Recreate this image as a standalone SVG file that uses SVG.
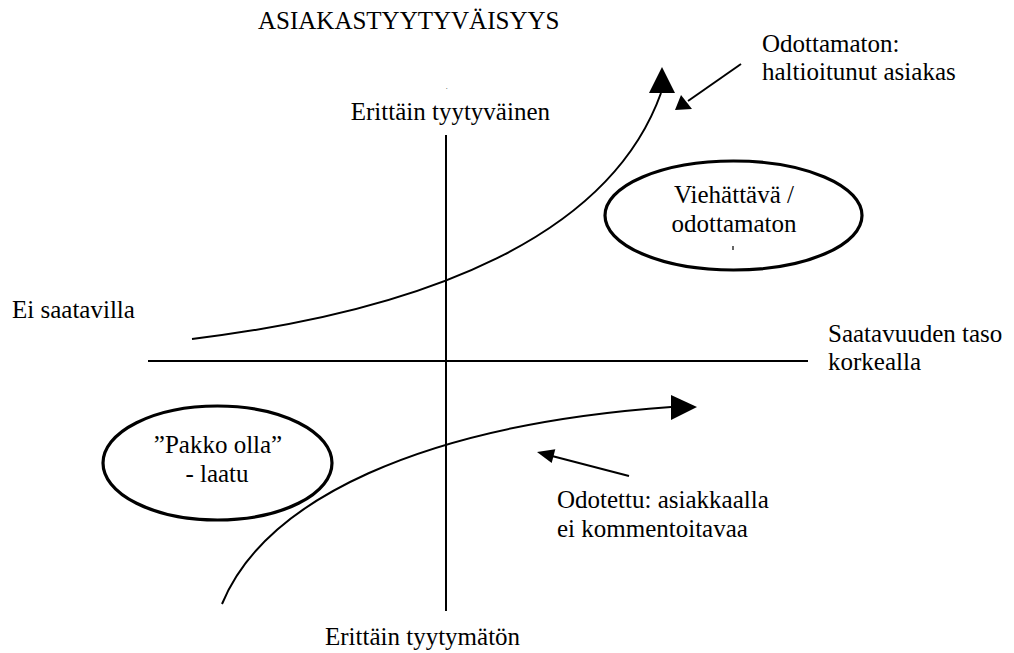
<svg xmlns="http://www.w3.org/2000/svg" width="1014" height="653" viewBox="0 0 1014 653">
  <defs>
    <style>
      .t { font-family: "Liberation Serif", "Times New Roman", serif; font-size: 25px; fill: #000; }
      .mid { text-anchor: middle; }
      .end { text-anchor: end; }
      .axis { stroke: #000; stroke-width: 2; fill: none; }
      .curve { stroke: #000; stroke-width: 2; fill: none; }
      .oval { stroke: #000; stroke-width: 3.2; fill: #fff; }
      .head { fill: #000; }
    </style>
  </defs>
  <rect width="1014" height="653" fill="#fff"/>

  <g id="title">
    <text class="t" x="258" y="29">ASIAKASTYYTYVÄISYYS</text>
    <text x="446" y="89" font-size="6" font-family="Liberation Serif, serif">.</text>
  </g>

  <!-- axes -->
  <g id="axes">
    <line class="axis" x1="446" y1="135" x2="446" y2="611"/>
    <line class="axis" x1="148" y1="361" x2="808" y2="361"/>
  </g>

  <g id="axis-labels">
    <text class="t end" x="550" y="120">Erittäin tyytyväinen</text>
    <text class="t" x="325" y="645">Erittäin tyytymätön</text>
    <text class="t" x="12" y="318">Ei saatavilla</text>
    <text class="t" x="828" y="342">Saatavuuden taso</text>
    <text class="t" x="828" y="370">korkealla</text>
  </g>

  <!-- connectors: curves and pointer arrows -->
  <g id="connectors">
    <path class="curve" d="M192,339 C430,310 610,235 661,93"/>
    <polygon class="head" points="662,67 649,93 675,93"/>
    <path class="curve" d="M222,604 C265,500 420,425 671,407"/>
    <polygon class="head" points="697,407 671,395 671,420"/>
    <line class="curve" x1="741" y1="64" x2="688" y2="101"/>
    <polygon class="head" points="675,110 681,95 692,109"/>
    <line class="curve" x1="629" y1="476" x2="552" y2="456"/>
    <polygon class="head" points="537,452 555.3,449.3 551.7,462.9"/>
  </g>

  <g id="node-viehattava">
    <ellipse class="oval" cx="733.5" cy="215.5" rx="128.5" ry="54.5"/>
    <text class="t mid" x="734" y="203">Viehättävä /</text>
    <text class="t mid" x="734" y="232">odottamaton</text>
    <line x1="733" y1="246" x2="733" y2="250" stroke="#000" stroke-width="1.2"/>
  </g>

  <g id="node-pakko">
    <ellipse class="oval" cx="217.5" cy="463" rx="114.5" ry="57"/>
    <text class="t mid" x="218" y="453">”Pakko olla”</text>
    <text class="t mid" x="217" y="482">- laatu</text>
  </g>

  <g id="label-odottamaton">
    <text class="t" x="762" y="52">Odottamaton:</text>
    <text class="t" x="762" y="80">haltioitunut asiakas</text>
  </g>

  <g id="label-odotettu">
    <text class="t" x="557" y="508">Odotettu: asiakkaalla</text>
    <text class="t" x="557" y="537">ei kommentoitavaa</text>
  </g>
</svg>
